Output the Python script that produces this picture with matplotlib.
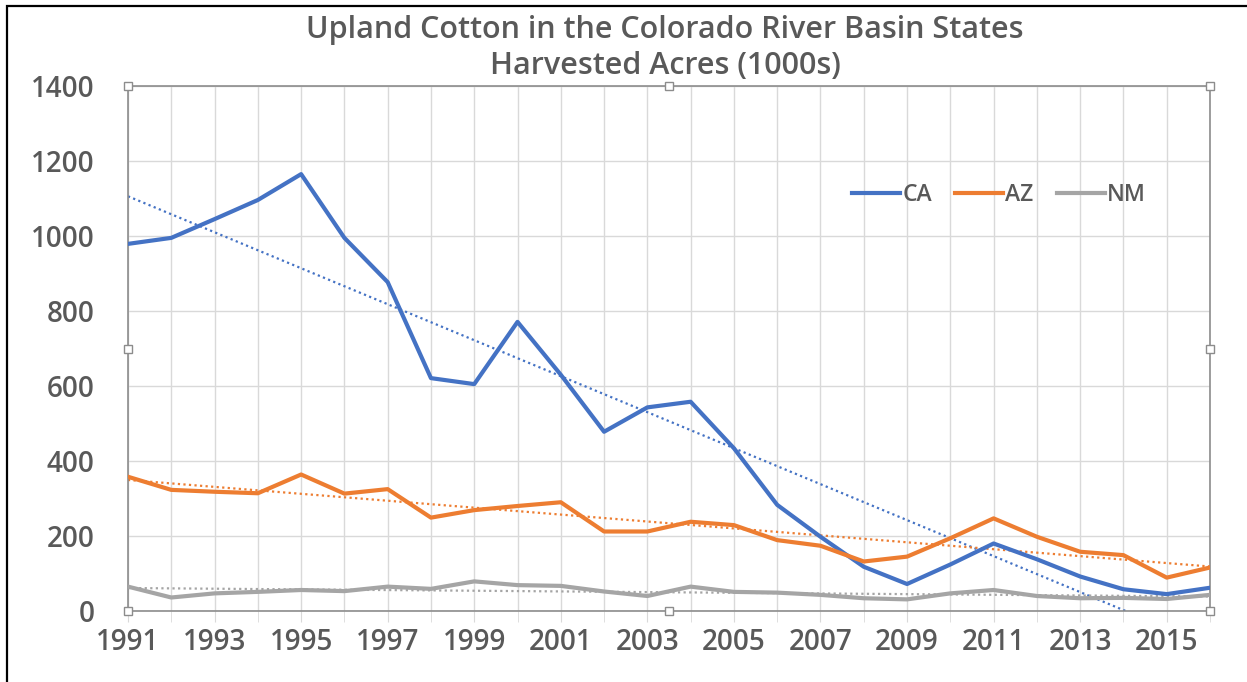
import numpy as np
import matplotlib
matplotlib.use("Agg")
import matplotlib.pyplot as plt
from matplotlib.patches import Rectangle

plt.rcParams['font.family'] = ['Open Sans', 'DejaVu Sans']

years = list(range(1991, 2017))
ca = [979, 995, 1045, 1096, 1165, 995, 877, 621, 605, 771, 630, 478, 543, 558,
      434, 283, 198, 118, 72, 124, 180, 138, 92, 58, 45, 62]
az = [358, 323, 318, 314, 364, 313, 325, 249, 269, 280, 290, 212, 212, 238,
      229, 189, 174, 132, 145, 194, 247, 198, 158, 149, 89, 116]
nm = [65, 36, 47, 51, 56, 53, 65, 59, 79, 69, 67, 52, 40, 65,
      51, 49, 43, 34, 31, 47, 56, 40, 34, 35, 32, 43]
series_names = ['CA', 'AZ', 'NM']
colors = ['#4472C4', '#ED7D31', '#A5A5A5']
title = 'Upland Cotton in the Colorado River Basin States\nHarvested Acres (1000s)'

txt = '#595959'
fig = plt.figure(figsize=(12.47, 6.82), dpi=100)
ax = fig.add_axes([128/1247, 1-611/682, (1210-128)/1247, (611-86)/682])

x = np.array(years)
for vals, name, c in zip([ca, az, nm], series_names, colors):
    ax.plot(x, vals, color=c, lw=3, label=name, solid_joinstyle='round', zorder=3)
    k, b = np.polyfit(x, vals, 1)
    ax.plot(x, k*x + b, color=c, lw=1.6, ls=(0, (1, 1.5)), zorder=2)

ax.set_xlim(1991, 2016)
ax.set_ylim(0, 1400)
ax.set_yticks(range(0, 1401, 200))
ax.set_xticks(years, minor=True)
ax.set_xticks(years[::2])
ax.grid(True, which='both', axis='x', color='#d9d9d9', lw=1)
ax.grid(True, which='major', axis='y', color='#d9d9d9', lw=1)
ax.set_axisbelow(True)
for s in ax.spines.values():
    s.set_color('#8c8c8c')
    s.set_linewidth(1.2)
ax.tick_params(axis='x', which='both', length=8, color='#d9d9d9', pad=4)
ax.tick_params(axis='y', length=0, pad=24)
ax.tick_params(labelsize=20, labelcolor=txt)
for lab in ax.get_xticklabels() + ax.get_yticklabels():
    lab.set_fontweight('semibold')

fig.text(665/1247, 1-48/682, title, ha='center', va='center', fontsize=22,
         color=txt, fontweight='semibold', linespacing=1.3)

leg = ax.legend(loc='center', bbox_to_anchor=(999/1247, 1-195/682),
                bbox_transform=fig.transFigure, ncol=3, frameon=False,
                fontsize=16.5, handlelength=2.1, handletextpad=0.1, columnspacing=1.0)
for t in leg.get_texts():
    t.set_color(txt)
    t.set_fontweight('semibold')

# selection handles of the plot area
hx = [0, 0.5, 1, 0, 1, 0, 0.5, 1]
hy = [1, 1, 1, 0.5, 0.5, 0, 0, 0]
ax.plot(hx, hy, 's', ms=6, mfc='white', mec='#8c8c8c', mew=1,
        transform=ax.transAxes, clip_on=False, zorder=5)

fig.patches.append(Rectangle((7/1247, -0.05), 1.2, 1-6/682+0.05, fill=False,
                             ec='black', lw=1.6, transform=fig.transFigure))

fig.savefig('out.png', dpi=100)
